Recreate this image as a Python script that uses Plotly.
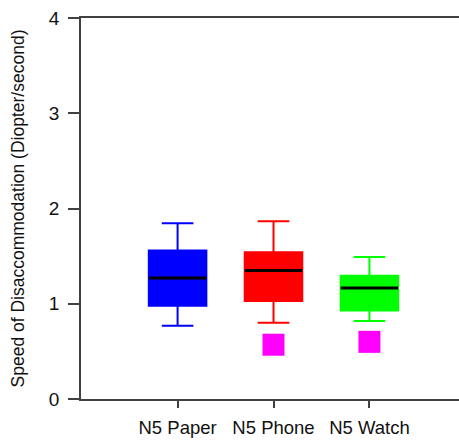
import plotly.graph_objects as go

# Box statistics per condition
categories = ["N5 Paper", "N5 Phone", "N5 Watch"]
positions = [1, 2, 3]
lower_whisker = [0.77, 0.80, 0.82]
q1 = [0.98, 1.03, 0.93]
median = [1.27, 1.35, 1.165]
q3 = [1.56, 1.54, 1.295]
upper_whisker = [1.845, 1.865, 1.49]
box_colors = ["#0000FF", "#FF0000", "#00FF00"]

# Outlying points
outlier_x = [2, 3]
outlier_y = [0.57, 0.60]

y_ticks = [0, 1, 2, 3, 4]

BOX_W = 0.6
FONT = "Liberation Sans, Arial, sans-serif"

fig = go.Figure()

for i, cat in enumerate(categories):
    fig.add_trace(go.Box(
        x=[positions[i]],
        q1=[q1[i]], median=[median[i]], q3=[q3[i]],
        lowerfence=[lower_whisker[i]], upperfence=[upper_whisker[i]],
        name=cat,
        width=BOX_W,
        whiskerwidth=0.55,
        fillcolor=box_colors[i],
        line=dict(color=box_colors[i], width=2),
        boxpoints=False,
        showlegend=False,
        hoverinfo="skip",
    ))
    # black median bar drawn over the box
    fig.add_trace(go.Scatter(
        x=[positions[i] - BOX_W / 2, positions[i] + BOX_W / 2],
        y=[median[i], median[i]],
        mode="lines",
        line=dict(color="black", width=3),
        showlegend=False,
        hoverinfo="skip",
    ))

fig.add_trace(go.Scatter(
    x=outlier_x, y=outlier_y,
    mode="markers",
    marker=dict(symbol="square", size=22, color="#FF00FF", line=dict(width=0)),
    showlegend=False,
    hoverinfo="skip",
))

fig.update_layout(
    width=459, height=443,
    margin=dict(l=81, r=0, t=18, b=44),
    paper_bgcolor="white", plot_bgcolor="white",
    boxmode="overlay",
    font=dict(family=FONT, size=18, color="#111111"),
)

fig.update_xaxes(
    range=[-0.007, 3.934],
    tickmode="array", tickvals=positions, ticktext=categories,
    ticks="outside", ticklen=7, tickwidth=1.5, tickcolor="#404040",
    showline=True, linecolor="#404040", linewidth=1.5, mirror=True,
    showgrid=False, zeroline=False,
    tickfont=dict(size=18.5),
    ticklabelstandoff=4,
)

fig.update_yaxes(
    range=[0, 4],
    tickmode="array", tickvals=y_ticks,
    ticks="outside", ticklen=11, tickwidth=1.5, tickcolor="#404040",
    showline=True, linecolor="#404040", linewidth=1.5,
    showgrid=False, zeroline=False,
    tickfont=dict(size=19),
    ticklabelstandoff=5,
    title=dict(text="Speed of Disaccommodation (Diopter/second)",
               font=dict(size=17.5), standoff=20),
)

fig.write_html("out.html")
